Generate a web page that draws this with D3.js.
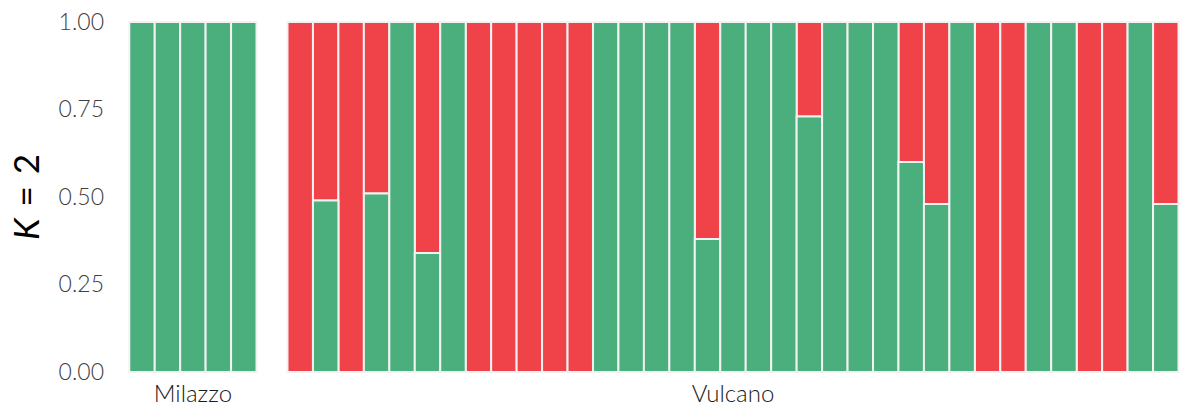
<!DOCTYPE html>
<html>
<head>
<meta charset="utf-8">
<script src="https://cdn.jsdelivr.net/npm/d3@7"></script>
<style>
body{margin:0;background:#fff}
svg{display:block}
text{font-family:Lato,"Open Sans",sans-serif}
</style>
</head>
<body>
<svg id="chart"></svg>
<script>
// STRUCTURE K = 2 membership, cluster 1 (green) per individual
var milazzoIds = ["M1","M2","M3","M4","M5"]
var milazzoGreen = [1,1,1,1,1]
var vulcanoIds = d3.range(1,36).map(function(i){return "V"+i})
var vulcanoGreen = [0,0.49,0,0.51,1,0.34,1,0,0,0,0,0,1,1,1,1,0.38,1,1,1,0.73,1,1,1,0.60,0.48,1,0,0,1,1,0,0,1,0.48]
var yTicks = [0,0.25,0.5,0.75,1]
var colors = {green:"#4baf7d", red:"#ef4349"}

var screen = {width:1184, height:407}
var plotTop = 22, plotBottom = 372

var svg = d3.select("#chart")
    .attr("width",screen.width)
    .attr("height",screen.height)

var yscale = d3.scaleLinear().domain([0,1]).range([plotBottom,plotTop])

var panels = [
  {name:"Milazzo", ids:milazzoIds, green:milazzoGreen, x0:129.3, x1:256.5},
  {name:"Vulcano", ids:vulcanoIds, green:vulcanoGreen, x0:287.5, x1:1178.5}
]

panels.forEach(function(p){
  var xscale = d3.scaleBand().domain(p.ids).range([p.x0,p.x1]).padding(0)
  var rows = p.ids.map(function(id,i){return {id:id, g:p.green[i]}})
  var g = svg.append("g")

  // red on top
  g.selectAll("rect.red").data(rows).enter().append("rect")
    .attr("class","red")
    .attr("x",function(d){return xscale(d.id)})
    .attr("width",xscale.bandwidth())
    .attr("y",yscale(1))
    .attr("height",function(d){return yscale(d.g)-yscale(1)})
    .attr("fill",colors.red)
    .attr("stroke","#f2f2f2").attr("stroke-width",2)
  g.selectAll("rect.green").data(rows).enter().append("rect")
    .attr("class","green")
    .attr("x",function(d){return xscale(d.id)})
    .attr("width",xscale.bandwidth())
    .attr("y",function(d){return yscale(d.g)})
    .attr("height",function(d){return yscale(0)-yscale(d.g)})
    .attr("fill",colors.green)
    .attr("stroke","#f2f2f2").attr("stroke-width",2)

  svg.append("text")
    .attr("x",(p.x0+p.x1)/2).attr("y",402)
    .attr("text-anchor","middle")
    .attr("font-size",24)
    .attr("font-weight",300)
    .attr("fill","#1a1a1a")
    .text(p.name)
})

var yAxis = svg.append("g")
  .attr("transform","translate(104,0)")
  .call(d3.axisLeft(yscale).tickValues(yTicks).tickSize(0).tickPadding(0).tickFormat(d3.format(".2f")))
yAxis.select(".domain").remove()
yAxis.selectAll("text").attr("font-size",23).attr("font-weight",300).attr("fill","#404040").attr("font-family","Lato,sans-serif")

var title = svg.append("text")
  .attr("transform","translate(39,"+((plotTop+plotBottom)/2)+") rotate(-90)")
  .attr("text-anchor","middle")
  .attr("font-size",35)
  .attr("font-weight",400)
  .attr("word-spacing",3)
  .attr("fill","#000")
title.append("tspan").attr("font-style","italic").text("K")
title.append("tspan").text(" = 2")
</script>
</body>
</html>
